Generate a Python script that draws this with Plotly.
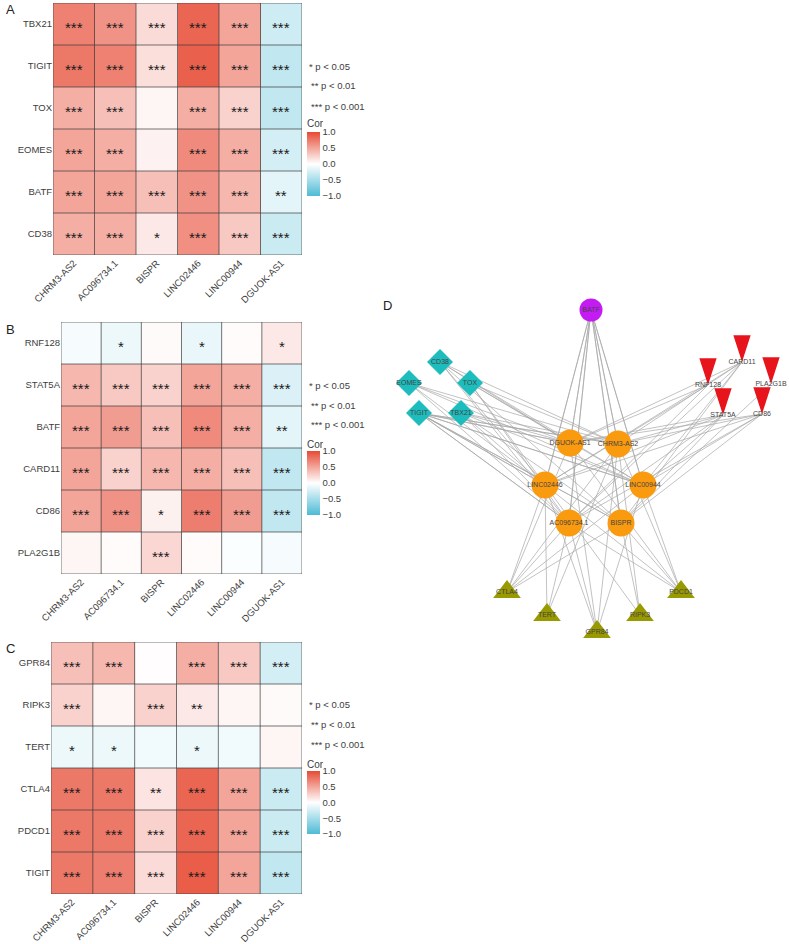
import plotly.graph_objects as go

W, H = 789, 944

lnc = ["CHRM3-AS2", "AC096734.1", "BISPR", "LINC02446", "LINC00944", "DGUOK-AS1"]

genes_a = ["TBX21", "TIGIT", "TOX", "EOMES", "BATF", "CD38"]
cor_a = [
    [0.70, 0.60, 0.20, 0.85, 0.50, -0.28],
    [0.75, 0.70, 0.18, 0.88, 0.50, -0.35],
    [0.45, 0.35, 0.05, 0.45, 0.25, -0.35],
    [0.50, 0.45, 0.07, 0.65, 0.45, -0.25],
    [0.50, 0.50, 0.35, 0.60, 0.40, -0.15],
    [0.45, 0.45, 0.12, 0.62, 0.30, -0.30],
]
sig_a = [
    ["***", "***", "***", "***", "***", "***"],
    ["***", "***", "***", "***", "***", "***"],
    ["***", "***", "", "***", "***", "***"],
    ["***", "***", "", "***", "***", "***"],
    ["***", "***", "***", "***", "***", "**"],
    ["***", "***", "*", "***", "***", "***"],
]

genes_b = ["RNF128", "STAT5A", "BATF", "CARD11", "CD86", "PLA2G1B"]
cor_b = [
    [-0.05, -0.10, 0.03, -0.12, 0.02, 0.12],
    [0.40, 0.30, 0.25, 0.50, 0.45, -0.20],
    [0.50, 0.55, 0.35, 0.65, 0.45, -0.15],
    [0.50, 0.25, 0.40, 0.45, 0.35, -0.35],
    [0.50, 0.60, 0.08, 0.72, 0.55, -0.35],
    [0.05, 0.02, 0.22, 0.02, -0.02, -0.05],
]
sig_b = [
    ["", "*", "", "*", "", "*"],
    ["***", "***", "***", "***", "***", "***"],
    ["***", "***", "***", "***", "***", "**"],
    ["***", "***", "***", "***", "***", "***"],
    ["***", "***", "*", "***", "***", "***"],
    ["", "", "***", "", "", ""],
]

genes_c = ["GPR84", "RIPK3", "TERT", "CTLA4", "PDCD1", "TIGIT"]
cor_c = [
    [0.35, 0.40, 0.01, 0.45, 0.30, -0.25],
    [0.25, 0.05, 0.25, 0.12, 0.05, 0.03],
    [-0.10, -0.10, -0.08, -0.10, -0.08, 0.05],
    [0.75, 0.75, 0.15, 0.85, 0.50, -0.30],
    [0.75, 0.75, 0.25, 0.85, 0.50, -0.30],
    [0.75, 0.72, 0.20, 0.90, 0.50, -0.35],
]
sig_c = [
    ["***", "***", "", "***", "***", "***"],
    ["***", "", "***", "**", "", ""],
    ["*", "*", "", "*", "", ""],
    ["***", "***", "**", "***", "***", "***"],
    ["***", "***", "***", "***", "***", "***"],
    ["***", "***", "***", "***", "***", "***"],
]

p_labels = ["* p < 0.05", "** p < 0.01", "*** p < 0.001"]
cb_vals = [-1, -0.5, 0, 0.5, 1]
cb_text = ["\u22121.0", "\u22120.5", "0.0", "0.5", "1.0"]

# Network (panel D)
node_names = ["BATF",
              "CD38", "EOMES", "TOX", "TIGIT", "TBX21",
              "CARD11", "RNF128", "PLA2G1B", "STAT5A", "CD86",
              "DGUOK-AS1", "CHRM3-AS2", "LINC02446", "LINC00944", "AC096734.1", "BISPR",
              "CTLA4", "TERT", "GPR84", "RIPK3", "PDCD1"]
node_group = ["shared",
              "A", "A", "A", "A", "A",
              "B", "B", "B", "B", "B",
              "lnc", "lnc", "lnc", "lnc", "lnc", "lnc",
              "C", "C", "C", "C", "C"]
node_x = [591,
          440, 409, 470, 419, 461,
          742, 708, 771, 723, 762,
          570, 618, 545, 643, 569, 621,
          507, 547, 597, 640, 681]
node_y = [310,
          362, 383, 383, 413, 413,
          362, 385, 384, 415, 414,
          443, 444, 485, 485, 523, 523,
          592, 615, 632, 615, 592]

font = "Liberation Sans, Arial, sans-serif"
txt_col = "#3d3d3d"
cscale = [[0, "#4DBBD5"], [0.5, "#FFFFFF"], [1, "#E64B35"]]


def px(x):
    return x / W


def py(y):
    return 1 - y / H


panels = [
    dict(genes=genes_a, cor=cor_a, sig=sig_a, box=(53, 302, 3, 255),
         leg_y=(66, 86, 106), cor_y=124, cb=(132, 196), letter=("A", 4, 10)),
    dict(genes=genes_b, cor=cor_b, sig=sig_b, box=(61, 302, 322, 574),
         leg_y=(385, 405, 425), cor_y=444, cb=(451, 515), letter=("B", 4, 329)),
    dict(genes=genes_c, cor=cor_c, sig=sig_c, box=(51, 302, 642, 894),
         leg_y=(704, 724, 744), cor_y=764, cb=(771, 834), letter=("C", 4, 648)),
]

fig = go.Figure()
annotations = []
shapes = []
layout_axes = {}

for k, p in enumerate(panels):
    idx = k + 1
    xa = "x" if idx == 1 else f"x{idx}"
    ya = "y" if idx == 1 else f"y{idx}"
    x0, x1, y0, y1 = p["box"]
    n = len(p["genes"])
    m = len(lnc)
    cb0, cb1 = p["cb"]
    fig.add_trace(go.Heatmap(
        z=p["cor"], x=list(range(m)), y=list(range(n)),
        colorscale=cscale, zmin=-1, zmax=1, xaxis=xa, yaxis=ya,
        hoverinfo="skip",
        colorbar=dict(
            x=px(307), xanchor="left", xref="paper",
            y=py((cb0 + cb1) / 2), yanchor="middle", yref="paper",
            len=cb1 - cb0, lenmode="pixels", thickness=13,
            outlinewidth=0, tickvals=cb_vals, ticktext=cb_text,
            ticks="", tickfont=dict(size=9.5, color=txt_col, family=font),
            ypad=0, xpad=0,
        ),
    ))
    xkey = "xaxis" if idx == 1 else f"xaxis{idx}"
    ykey = "yaxis" if idx == 1 else f"yaxis{idx}"
    layout_axes[xkey] = dict(
        domain=[px(x0), px(x1)], range=[-0.5, m - 0.5], anchor=ya,
        tickvals=list(range(m)), ticktext=lnc, tickangle=-45,
        tickfont=dict(size=9.5, color=txt_col, family=font), automargin=False,
        showgrid=False, zeroline=False, ticks="", fixedrange=True,
    )
    layout_axes[ykey] = dict(
        domain=[py(y1), py(y0)], range=[n - 0.5, -0.5], anchor=xa,
        tickvals=list(range(n)), ticktext=p["genes"], automargin=False,
        tickfont=dict(size=9.5, color=txt_col, family=font),
        showgrid=False, zeroline=False, ticks="", fixedrange=True,
    )
    for i in range(m + 1):
        shapes.append(dict(type="line", xref=xa, yref=ya, x0=i - 0.5, x1=i - 0.5,
                           y0=-0.5, y1=n - 0.5, line=dict(color="#3a3a3a", width=0.7)))
    for j in range(n + 1):
        shapes.append(dict(type="line", xref=xa, yref=ya, y0=j - 0.5, y1=j - 0.5,
                           x0=-0.5, x1=m - 0.5, line=dict(color="#3a3a3a", width=0.7)))
    for r in range(n):
        for c in range(m):
            if p["sig"][r][c]:
                annotations.append(dict(
                    x=c, y=r, xref=xa, yref=ya, text=p["sig"][r][c], showarrow=False,
                    yshift=-3, font=dict(size=15, color="#1a1a1a", family=font)))
    for t, yy, xx in zip(p_labels, p["leg_y"], (307, 309, 309)):
        annotations.append(dict(x=px(xx), y=py(yy), xref="paper", yref="paper",
                                text=t, showarrow=False, xanchor="left", yanchor="middle",
                                font=dict(size=9.5, color=txt_col, family=font)))
    annotations.append(dict(x=px(305), y=py(p["cor_y"]), xref="paper", yref="paper",
                            text="Cor", showarrow=False, xanchor="left", yanchor="middle",
                            font=dict(size=10, color=txt_col, family=font)))
    L, lx, ly = p["letter"]
    annotations.append(dict(x=px(lx), y=py(ly), xref="paper", yref="paper",
                            text=L, showarrow=False, xanchor="left", yanchor="middle",
                            font=dict(size=13, color="#222", family=font)))

# ---- Panel D network ----
pos = {nm: (x, y) for nm, x, y in zip(node_names, node_x, node_y)}
ex, ey = [], []
for p in panels:
    for r, g in enumerate(p["genes"]):
        for c, l in enumerate(lnc):
            if p["sig"][r][c]:
                ax_, ay_ = pos[l]
                bx_, by_ = pos[g]
                ex += [ax_, bx_, None]
                ey += [ay_, by_, None]

fig.add_trace(go.Scatter(x=ex, y=ey, mode="lines", xaxis="x4", yaxis="y4",
                         line=dict(color="#a8a8a8", width=0.7), hoverinfo="skip",
                         showlegend=False))

styles = {
    "shared": dict(symbol="circle", color="#C41BF2", size=23, angle=0),
    "A": dict(symbol="diamond", color="#1DBDBD", size=20, angle=0),
    "B": dict(symbol="arrow", color="#E8141C", size=28, angle=180),
    "lnc": dict(symbol="circle", color="#FA9A0F", size=27, angle=0),
    "C": dict(symbol="triangle-up", color="#999900", size=24, angle=0),
}
for grp, st in styles.items():
    ids = [i for i, g in enumerate(node_group) if g == grp]
    fig.add_trace(go.Scatter(
        x=[node_x[i] for i in ids], y=[node_y[i] for i in ids],
        text=[node_names[i] for i in ids], mode="markers+text",
        textposition="middle center", xaxis="x4", yaxis="y4",
        marker=dict(symbol=st["symbol"], color=st["color"], size=st["size"],
                    angle=st["angle"], line=dict(width=0)),
        textfont=dict(size=7, color="#444", family=font),
        hoverinfo="skip", showlegend=False, cliponaxis=False,
    ))

layout_axes["xaxis4"] = dict(domain=[px(371), 1], range=[371, 789], visible=False,
                             anchor="y4", fixedrange=True, automargin=False)
layout_axes["yaxis4"] = dict(domain=[0, 1], range=[944, 0], visible=False,
                             anchor="x4", fixedrange=True, automargin=False)
annotations.append(dict(x=px(381), y=py(305), xref="paper", yref="paper",
                        text="D", showarrow=False, xanchor="left", yanchor="middle",
                        font=dict(size=13, color="#222", family=font)))

fig.update_layout(
    width=W, height=H, margin=dict(l=0, r=0, t=0, b=0, autoexpand=False),
    paper_bgcolor="white", plot_bgcolor="white",
    showlegend=False, annotations=annotations, shapes=shapes,
    font=dict(family=font), hovermode=False,
    **layout_axes,
)

fig.write_html("out.html", config={"displayModeBar": False},
               post_script="document.body.style.margin='0';document.body.style.overflow='hidden';")
